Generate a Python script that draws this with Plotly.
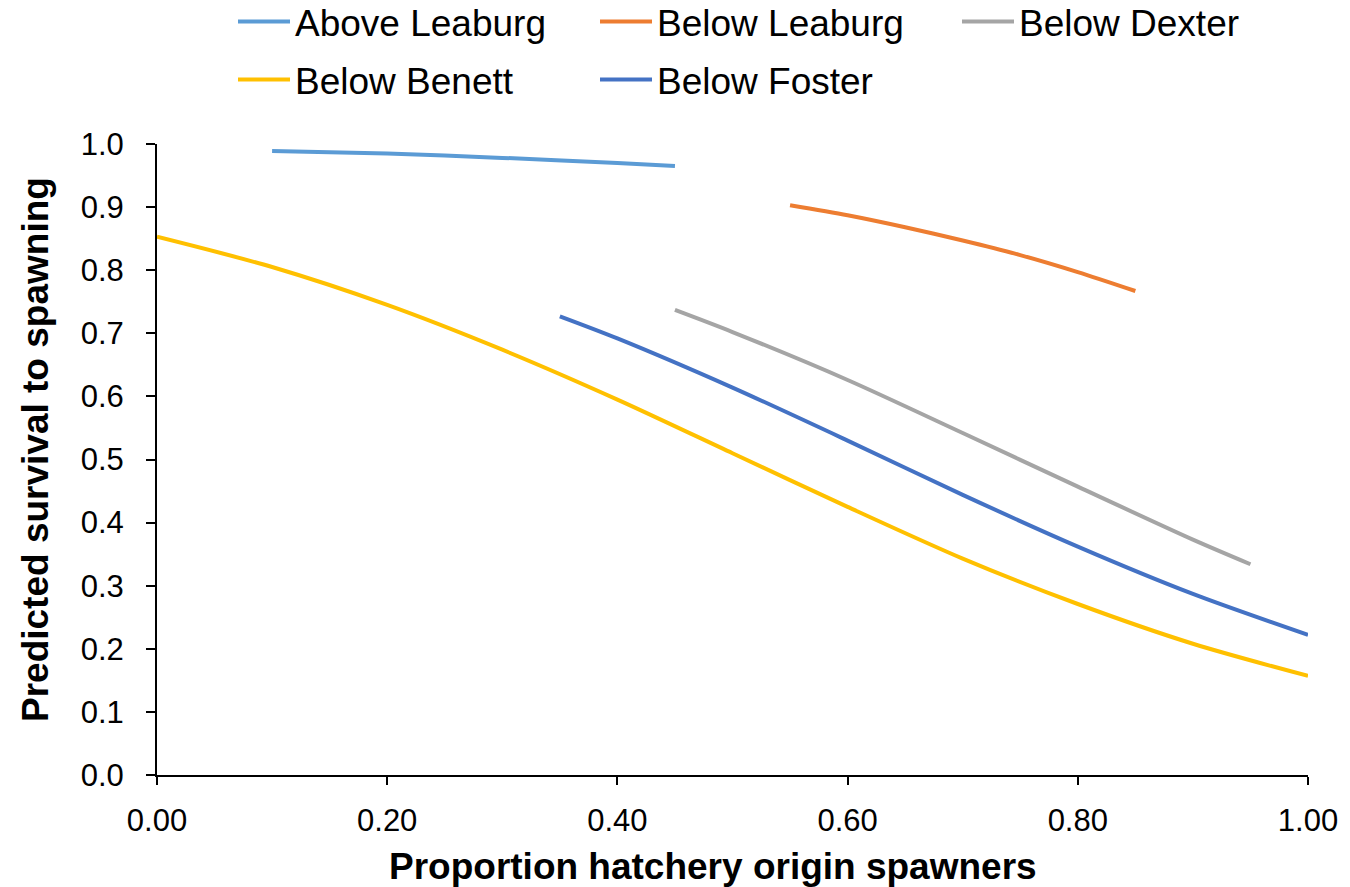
import plotly.graph_objects as go

# Predicted survival to spawning vs. proportion of hatchery-origin spawners
above_leaburg_x = [0.10, 0.20, 0.30, 0.40, 0.45]
above_leaburg_y = [0.989, 0.985, 0.978, 0.970, 0.965]

below_leaburg_x = [0.55, 0.60, 0.65, 0.70, 0.75, 0.80, 0.85]
below_leaburg_y = [0.903, 0.887, 0.868, 0.847, 0.824, 0.797, 0.767]

below_dexter_x = [0.45, 0.50, 0.60, 0.70, 0.80, 0.90, 0.95]
below_dexter_y = [0.737, 0.702, 0.626, 0.542, 0.457, 0.373, 0.334]

below_benett_x = [0.00, 0.10, 0.20, 0.30, 0.40, 0.50, 0.60, 0.70, 0.80, 0.90, 1.00]
below_benett_y = [0.853, 0.805, 0.745, 0.674, 0.595, 0.510, 0.425, 0.343, 0.271, 0.208, 0.157]

below_foster_x = [0.35, 0.40, 0.50, 0.60, 0.70, 0.80, 0.90, 1.00]
below_foster_y = [0.727, 0.692, 0.614, 0.530, 0.444, 0.362, 0.287, 0.222]

series = [
    ("Above Leaburg", above_leaburg_x, above_leaburg_y, "#5B9BD5", "legend"),
    ("Below Leaburg", below_leaburg_x, below_leaburg_y, "#ED7D31", "legend"),
    ("Below Dexter", below_dexter_x, below_dexter_y, "#A5A5A5", "legend"),
    ("Below Benett", below_benett_x, below_benett_y, "#FFC000", "legend2"),
    ("Below Foster", below_foster_x, below_foster_y, "#4472C4", "legend2"),
]

FONT = "Arial, Liberation Sans, sans-serif"

fig = go.Figure()
for name, xs, ys, color, leg in series:
    fig.add_trace(go.Scatter(
        x=xs, y=ys, name=name, mode="lines",
        line=dict(color=color, width=4, shape="spline", smoothing=0.8),
        legend=leg,
    ))

legend_common = dict(
    orientation="h",
    xref="container", yref="container",
    xanchor="left", yanchor="middle",
    font=dict(family=FONT, size=37, color="#000000"),
    entrywidth=295, entrywidthmode="pixels",
    itemwidth=52,
    bgcolor="rgba(0,0,0,0)",
    borderwidth=0,
    tracegroupgap=0,
)

fig.update_layout(
    width=1350, height=887,
    margin=dict(l=157, r=37, t=144, b=112),
    paper_bgcolor="white", plot_bgcolor="white",
    font=dict(family=FONT, color="#000000"),
    legend=dict(legend_common, x=233 / 1350, y=1 - 22 / 887),
    legend2=dict(legend_common, x=233 / 1350, y=1 - 80 / 887),
    xaxis=dict(
        range=[0, 1], dtick=0.2, tick0=0, tickformat=".2f",
        showgrid=False, zeroline=False,
        showline=True, linecolor="#000000", linewidth=2,
        ticks="outside", ticklen=8, tickwidth=2, tickcolor="#000000",
        tickfont=dict(family=FONT, size=31, color="#000000"),
        ticklabelstandoff=9,
    ),
    yaxis=dict(
        range=[0, 1], dtick=0.1, tick0=0, tickformat=".1f",
        showgrid=False, zeroline=False,
        showline=True, linecolor="#000000", linewidth=2,
        ticks="outside", ticklen=9, tickwidth=2, tickcolor="#000000",
        tickfont=dict(family=FONT, size=31, color="#000000"),
        ticklabelstandoff=16,
    ),
    annotations=[
        dict(text="<b>Proportion hatchery origin spawners</b>",
             xref="paper", yref="paper", x=(715 - 157) / 1156, y=0,
             xanchor="center", yanchor="middle", yshift=-91, showarrow=False,
             font=dict(family=FONT, size=37, color="#000000")),
        dict(text="<b>Predicted survival to spawning</b>",
             xref="paper", yref="paper", x=0, y=(775 - 450) / 631,
             xanchor="center", yanchor="middle", xshift=-122, textangle=-90,
             showarrow=False,
             font=dict(family=FONT, size=37, color="#000000")),
    ],
)

fig.write_html("out.html")
